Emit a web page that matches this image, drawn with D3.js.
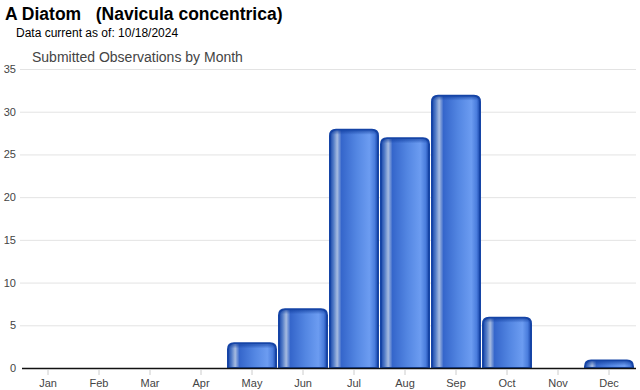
<!DOCTYPE html>
<html><head><meta charset="utf-8">
<script src="https://cdn.jsdelivr.net/npm/d3@7"></script>
<style>body{margin:0;background:#fff}svg{display:block}</style>
</head><body>
<svg id="c" width="640" height="390"></svg>
<script>
const months = ["Jan","Feb","Mar","Apr","May","Jun","Jul","Aug","Sep","Oct","Nov","Dec"];
const counts = [0,0,0,0,3,7,28,27,32,6,0,1];
const yTicks = [0,5,10,15,20,25,30,35];

const svg = d3.select("#c");
const W=640,H=390, m={l:22.5,r:5.5,t:69,b:22};
const x = d3.scaleBand().domain(months).range([m.l, W-m.r]).paddingInner(0.02).paddingOuter(0.01);
const y = d3.scaleLinear().domain([0,35]).range([H-m.b, m.t]);

const defs = svg.append("defs");
const g = defs.append("linearGradient").attr("id","bg").attr("x1","0").attr("x2","1").attr("y1","0").attr("y2","0");
[[0,"#1a47ab"],[0.07,"#4f79c6"],[0.15,"#a6bbe0"],[0.24,"#3566cb"],[0.55,"#5386e2"],[0.82,"#6c9cf1"],[0.93,"#4a7ddd"],[1,"#1a47ab"]]
  .forEach(([o,c])=>g.append("stop").attr("offset",o).attr("stop-color",c));
const gt = defs.append("linearGradient").attr("id","top").attr("x1","0").attr("x2","0").attr("y1","0").attr("y2","1");
[[0,"#0d3a9a",0.6],[1,"#0d3a9a",0]].forEach(([o,c,op])=>gt.append("stop").attr("offset",o).attr("stop-color",c).attr("stop-opacity",op));

// gridlines
svg.append("g").selectAll("line").data(yTicks.filter(d=>d>0)).join("line")
  .attr("x1",20).attr("x2",W-4).attr("y1",d=>y(d)+0.5).attr("y2",d=>y(d)+0.5)
  .attr("stroke","#e3e3e3").attr("stroke-width",1);

// y labels
svg.append("g").selectAll("text").data(yTicks).join("text")
  .attr("x",16).attr("y",d=>y(d)+4).attr("text-anchor","end")
  .attr("font-family","Liberation Sans, Arial, sans-serif").attr("font-size",11).attr("fill","#444")
  .text(d=>d);

// bars
const r=6;
const data = months.map((mo,i)=>({mo,v:counts[i]})).filter(d=>d.v>0);
const barPath = d=>{
  const x0=x(d.mo)+1, w=x.bandwidth()-2, y0=y(d.v)+1, yb=y(0);
  return `M${x0},${yb} L${x0},${y0+r} Q${x0},${y0} ${x0+r},${y0} L${x0+w-r},${y0} Q${x0+w},${y0} ${x0+w},${y0+r} L${x0+w},${yb} Z`;
};
const bg = svg.append("g");
bg.selectAll("path.b").data(data).join("path").attr("class","b")
  .attr("d",barPath).attr("fill","url(#bg)").attr("stroke","#1544a6").attr("stroke-width",2);
bg.selectAll("rect.t").data(data).join("rect").attr("class","t")
  .attr("x",d=>x(d.mo)+3).attr("width",x.bandwidth()-6).attr("y",d=>y(d.v)+2).attr("height",4)
  .attr("fill","url(#top)");

// x axis
const xa = svg.append("g").attr("transform",`translate(0,${y(0)})`)
  .call(d3.axisBottom(x).tickSize(5).tickPadding(4));
xa.select(".domain").remove();
xa.selectAll(".tick line").attr("stroke","#ccc").attr("y1",2).attr("y2",7);
xa.selectAll(".tick text").attr("font-family","Liberation Sans, Arial, sans-serif").attr("font-size",11).attr("fill","#444").attr("dy","0.95em");
svg.append("line").attr("x1",22).attr("x2",W-4).attr("y1",y(0)+0.5).attr("y2",y(0)+0.5).attr("stroke","#111").attr("stroke-width",1.5);

// titles
svg.append("text").attr("x",5).attr("y",20).attr("font-family","Liberation Sans, Arial, sans-serif")
  .attr("font-size",17.5).attr("font-weight","bold").attr("fill","#000").attr("xml:space","preserve").text("A Diatom   (Navicula concentrica)");
svg.append("text").attr("x",16).attr("y",37).attr("font-family","Liberation Sans, Arial, sans-serif")
  .attr("font-size",12).attr("fill","#000").text("Data current as of: 10/18/2024");
svg.append("text").attr("x",32).attr("y",62).attr("font-family","Liberation Sans, Arial, sans-serif")
  .attr("font-size",14).attr("fill","#444").text("Submitted Observations by Month");
</script>
</body></html>
